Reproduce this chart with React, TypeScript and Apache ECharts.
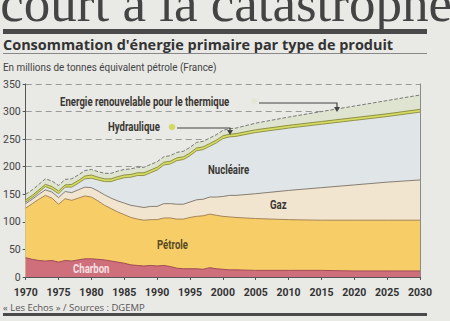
import React, { useEffect, useRef } from "react";
import * as echarts from "echarts";

const years = [
  1970, 1971, 1972, 1973, 1974, 1975, 1976, 1977, 1978, 1979,
  1980, 1981, 1982, 1983, 1984, 1985, 1986, 1987, 1988, 1989,
  1990, 1991, 1992, 1993, 1994, 1995, 1996, 1997, 1998, 1999,
  2000, 2001, 2002, 2005, 2010, 2015, 2020, 2025, 2030,
];
const charbon = [
  35, 32, 30, 29, 30, 27, 30, 29, 31, 33,
  33, 32, 31, 29, 27, 25, 22, 21, 20, 21,
  20, 21, 19, 16, 15, 15, 15, 14, 17, 15,
  14, 13, 13, 12, 12, 12, 11, 11, 11,
];
const petrole = [
  90, 101, 111, 119, 113, 105, 112, 110, 112, 114,
  112, 106, 99, 95, 91, 88, 86, 84, 83, 83,
  84, 86, 88, 89, 90, 93, 95, 97, 97, 97,
  96, 96, 95, 94, 92, 91, 92, 92, 92,
];
const gaz = [
  8, 8, 9, 10, 11, 12, 13, 14, 15, 16,
  17, 18, 19, 19, 20, 21, 22, 23, 23, 24,
  24, 26, 26, 27, 27, 28, 30, 30, 31, 33,
  36, 39, 40, 45, 53, 59, 64, 69, 73,
];
const nucleaire = [
  3, 3, 4, 6, 5, 7, 8, 10, 12, 15,
  17, 20, 24, 30, 39, 46, 51, 56, 58, 61,
  66, 70, 72, 79, 81, 84, 89, 90, 92, 98,
  105, 106, 107, 111, 113, 115, 117, 119, 123,
];
const hydraulique = [
  4, 4, 4, 4, 5, 5, 4, 5, 5, 5,
  6, 5, 5, 5, 5, 5, 5, 5, 5, 5,
  5, 5, 5, 5, 5, 5, 5, 5, 5, 5,
  5, 5, 5, 5, 5, 5, 5, 5, 5,
];
const renouvelable = [
  10, 10, 10, 10, 10, 10, 10, 10, 10, 10,
  10, 10, 10, 10, 10, 10, 10, 10, 10, 10,
  10, 10, 10, 10, 10, 10, 10, 10, 10, 10,
  10, 10, 10, 12, 15, 18, 21, 24, 26,
];
const yTicks = { min: 0, max: 350, interval: 50 };
const xTicks = { min: 1970, max: 2030, interval: 5 };

const SANS = "Roboto, 'Noto Sans', sans-serif";

export default function App() {
  const ref = useRef<HTMLDivElement>(null);
  useEffect(() => {
    const chart = echarts.init(ref.current!, undefined, { renderer: "svg" });
    const layers = [
      { name: "Charbon", vals: charbon, fill: "#cf6f7b", line: "#9a4552", type: "solid" },
      { name: "Pétrole", vals: petrole, fill: "#f7cd68", line: "#9c7c52", type: "solid" },
      { name: "Gaz", vals: gaz, fill: "#f1e5cf", line: "#7a7266", type: "solid" },
      { name: "Nucléaire", vals: nucleaire, fill: "#e0e5e7", line: "#8a8a3e", type: "solid" },
      { name: "Hydraulique", vals: hydraulique, fill: "#d5dc62", line: "#85853c", type: "solid" },
      { name: "Energie renouvelable pour le thermique", vals: renouvelable, fill: "#dfe4d0", line: "#6c6c6c", type: "dashed" },
    ];
    // cumulative tops (stack), drawn from top layer down so lower layers paint over
    let run = years.map(() => 0);
    const stacked = layers.map((l) => {
      run = run.map((v, i) => v + l.vals[i]);
      return { ...l, data: years.map((y, i) => [y, run[i]]) };
    });
    const series = stacked
      .slice()
      .reverse()
      .map((l) => ({
        name: l.name,
        type: "line",
        symbol: "none",
        data: l.data,
        lineStyle: { color: l.line, width: 0.9, type: l.type },
        areaStyle: { color: l.fill, opacity: 1 },
        itemStyle: { color: l.fill },
      }));
    const lbl = (text: string, x: number, y: number, fill = "#3a3632", size = 12) => ({
      type: "text",
      x,
      y,
      scaleX: 0.8,
      style: { text, fill, font: `bold ${size}px ${SANS}`, verticalAlign: "middle", align: "left" },
      z: 10,
    });
    chart.setOption({
      animation: false,
      grid: { left: 25, right: 30, top: 84, bottom: 44 },
      xAxis: {
        type: "value",
        ...xTicks,
        axisLine: { show: true, lineStyle: { color: "#555", width: 1 } },
        axisTick: { show: true, length: 3, lineStyle: { color: "#555" } },
        axisLabel: {
          margin: 10,
          color: "#333",
          fontWeight: "bold",
          fontSize: 10.5,
          fontFamily: SANS,
          formatter: (v: number) => String(v),
        },
        splitLine: { show: false },
      },
      yAxis: [
        {
          type: "value",
          ...yTicks,
          axisLine: { show: true, lineStyle: { color: "#555", width: 1 } },
          axisTick: { show: true, length: 3, lineStyle: { color: "#555" } },
          axisLabel: {
            margin: 5,
            color: "#444",
            fontSize: 10.5,
            fontFamily: SANS,
            padding: [0, 0, 8, 0],
          },
          splitLine: { show: true, lineStyle: { color: "#9a9a9a", type: [6, 4], width: 1 } },
        },
        {
          type: "value",
          ...yTicks,
          position: "right",
          axisLine: { show: true, lineStyle: { color: "#8a8a8a", width: 1 } },
          axisTick: { show: false },
          axisLabel: { show: false },
          splitLine: { show: false },
        },
      ],
      series,
      graphic: [
        {
          type: "text",
          x: 452,
          y: 29,
          style: {
            text: "court à la catastrophe",
            fill: "#444",
            font: "53px 'Liberation Serif', serif",
            align: "right",
            verticalAlign: "bottom",
          },
        },
        { type: "rect", shape: { x: 3, y: 29, width: 424, height: 5 }, style: { fill: "#4a4a4a" } },
        {
          type: "text",
          x: 3,
          y: 45,
          scaleX: 1.07,
          style: {
            text: "Consommation d'énergie primaire par type de produit",
            fill: "#333",
            font: "bold 13.5px 'Open Sans', sans-serif",
            verticalAlign: "middle",
          },
        },
        { type: "line", shape: { x1: 3, y1: 53.5, x2: 427, y2: 53.5 }, style: { stroke: "#888", lineWidth: 1 } },
        {
          type: "text",
          x: 3,
          y: 67,
          scaleX: 0.9,
          style: {
            text: "En millions de tonnes équivalent pétrole (France)",
            fill: "#444",
            font: `11px ${SANS}`,
            verticalAlign: "middle",
          },
        },
        lbl("Energie renouvelable pour le thermique", 60, 102),
        { type: "circle", shape: { cx: 254, cy: 101, r: 3 }, style: { fill: "#e4e7d6" }, z: 10 },
        { type: "polyline", shape: { points: [[259, 103], [337, 103], [337, 108]] }, style: { stroke: "#444", lineWidth: 1.2, fill: null }, z: 10 },
        { type: "polygon", shape: { points: [[334, 107], [340, 107], [337, 112]] }, style: { fill: "#444" }, z: 10 },
        lbl("Hydraulique", 108, 127),
        { type: "circle", shape: { cx: 172, cy: 127, r: 3.3 }, style: { fill: "#d3d866" }, z: 10 },
        { type: "polyline", shape: { points: [[177, 128], [230, 128], [230, 131]] }, style: { stroke: "#444", lineWidth: 1.2, fill: null }, z: 10 },
        { type: "polygon", shape: { points: [[227, 130], [233, 130], [230, 135]] }, style: { fill: "#444" }, z: 10 },
        lbl("Nucléaire", 208, 170),
        lbl("Gaz", 270, 205),
        lbl("Pétrole", 157, 245, "#5a4a22"),
        lbl("Charbon", 73, 269, "#f6e3e5"),
        {
          type: "text",
          x: 3,
          y: 307,
          style: {
            text: "« Les Echos » / Sources : DGEMP",
            fill: "#555",
            font: "9.5px 'Open Sans', sans-serif",
            verticalAlign: "middle",
          },
        },
        { type: "rect", shape: { x: 3, y: 313, width: 424, height: 3 }, style: { fill: "#4a4a4a" } },
      ],
    });
    return () => chart.dispose();
  }, []);
  return (
    <div
      ref={ref}
      style={{ position: "fixed", left: 0, top: 0, width: 450, height: 321, background: "#e9e9e6" }}
    />
  );
}
